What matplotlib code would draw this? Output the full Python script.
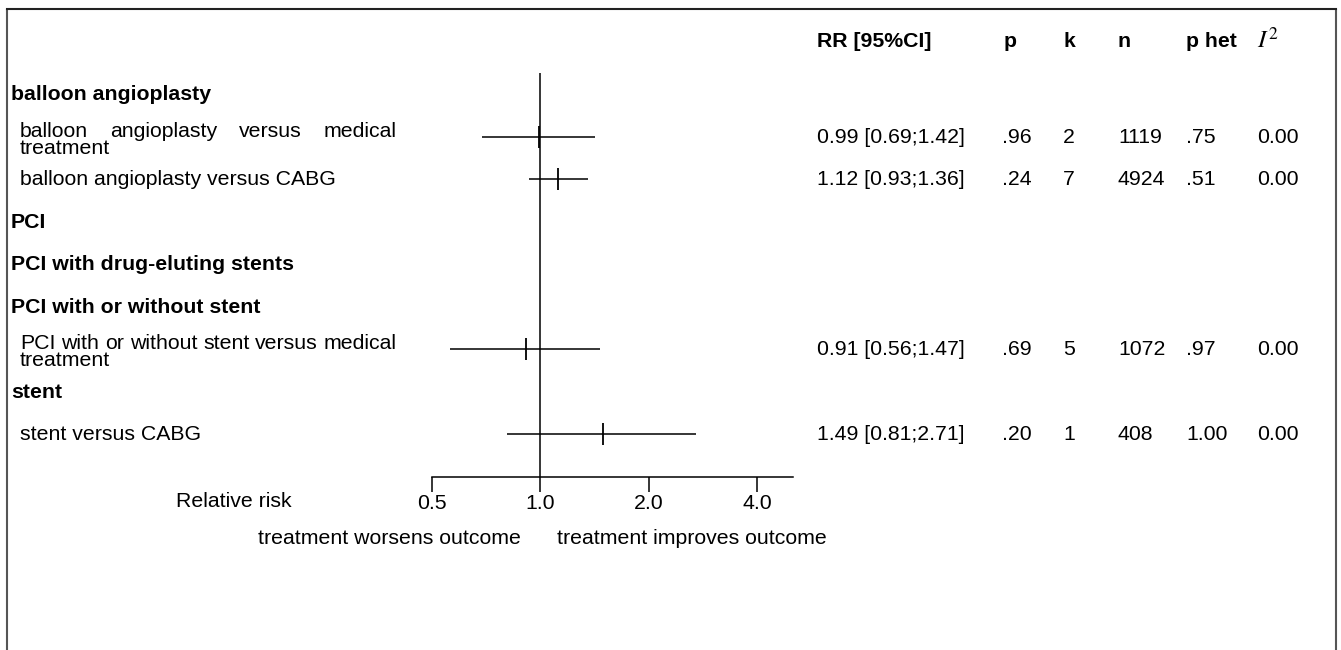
import numpy as np
import matplotlib
matplotlib.use("Agg")
import matplotlib.pyplot as plt
from matplotlib.transforms import blended_transform_factory, offset_copy

plt.rcParams['font.family'] = ['Liberation Sans', 'DejaVu Sans']
plt.rcParams['mathtext.fontset'] = 'stix'

# rows of the forest plot, top to bottom
labels = ["balloon angioplasty",
          "balloon angioplasty versus medical\ntreatment",
          "balloon angioplasty versus CABG",
          "PCI",
          "PCI with drug-eluting stents",
          "PCI with or without stent",
          "PCI with or without stent versus medical\ntreatment",
          "stent",
          "stent versus CABG"]
is_group = [True, False, False, True, True, True, False, True, False]
rr = [np.nan, 0.99, 1.12, np.nan, np.nan, np.nan, 0.91, np.nan, 1.49]
rr_lo = [np.nan, 0.69, 0.93, np.nan, np.nan, np.nan, 0.56, np.nan, 0.81]
rr_hi = [np.nan, 1.42, 1.36, np.nan, np.nan, np.nan, 1.47, np.nan, 2.71]
p_val = ["", ".96", ".24", "", "", "", ".69", "", ".20"]
k_val = ["", "2", "7", "", "", "", "5", "", "1"]
n_val = ["", "1119", "4924", "", "", "", "1072", "", "408"]
p_het = ["", ".75", ".51", "", "", "", ".97", "", "1.00"]
i2_val = ["", "0.00", "0.00", "", "", "", "0.00", "", "0.00"]

headers = ["RR [95%CI]", "p", "k", "n", "p het", "$I^2$"]
ticks = [0.5, 1.0, 2.0, 4.0]
tick_labels = ["0.5", "1.0", "2.0", "4.0"]

FS = 15.3
W, H = 1341, 650

fig = plt.figure(figsize=(W / 100, H / 100), dpi=100)

# background axes in pixel coordinates, used for layout of text
bg = fig.add_axes([0, 0, 1, 1])
bg.set_xlim(0, W)
bg.set_ylim(H, 0)
bg.axis('off')

# frame (no bottom edge)
bg.plot([7, 7], [H, 9], color='#555555', lw=1.5, solid_capstyle='butt')
bg.plot([1336, 1336], [H, 9], color='#555555', lw=1.5, solid_capstyle='butt')
bg.plot([7, 1336], [9, 9], color='#222222', lw=1.5)

# forest axes
x0, x1, ytop, ybot = 432, 793, 73, 477
ax = fig.add_axes([x0 / W, (H - ybot) / H, (x1 - x0) / W, (ybot - ytop) / H])
ax.patch.set_alpha(0)
ax.set_xscale('log', base=2)
ax.set_xlim(0.5, 5.04)
ax.set_ylim(9.01, -0.494)
for s in ['top', 'left', 'right']:
    ax.spines[s].set_visible(False)
ax.spines['bottom'].set_linewidth(1.1)
ax.set_yticks([])
ax.set_xticks(ticks)
ax.set_xticklabels(tick_labels)
ax.minorticks_off()
ax.tick_params(axis='x', direction='out', length=11, width=1.1, pad=1, labelsize=FS)

rows = np.arange(len(labels))
ax.axvline(1.0, color='black', lw=1.1)
ax.hlines(rows, rr_lo, rr_hi, color='black', lw=1.1)
ax.plot(rr, rows, ls='none', marker='|', ms=16, mew=1.3, color='black')

# text helpers
trans = blended_transform_factory(bg.transData, ax.transData)
renderer = fig.canvas.get_renderer()


def text_at(x, row, s, dy=6, **kw):
    t = offset_copy(trans, fig=fig, x=0, y=-dy, units='dots')
    return bg.text(x, row, s, transform=t, va='baseline', fontsize=FS, **kw)


def justified(x_left, x_right, row, line, dy):
    # spread words so the first line of a wrapped label fills the column
    words = line.split()
    t = offset_copy(trans, fig=fig, x=0, y=-dy, units='dots')
    objs = [bg.text(0, row, w, transform=t, va='baseline', fontsize=FS) for w in words]
    widths = [o.get_window_extent(renderer).width for o in objs]
    space = bg.text(0, 0, "a a", fontsize=FS).get_window_extent(renderer).width - \
        2 * bg.text(0, 0, "a", fontsize=FS).get_window_extent(renderer).width
    for o in bg.texts[-2:]:
        o.remove()
    gap = max((x_right - x_left - sum(widths)) / max(len(words) - 1, 1), space)
    x = x_left
    for o, w in zip(objs, widths):
        o.set_x(x)
        x += w + gap


for i, lab in enumerate(labels):
    if is_group[i]:
        text_at(11, i, lab, dy=6, fontweight='bold')
    elif "\n" in lab:
        first, second = lab.split("\n")
        justified(20, 397, i, first, dy=0)
        text_at(20, i, second, dy=17)
    else:
        text_at(20, i, lab, dy=6)

    if not np.isnan(rr[i]):
        text_at(817, i, "%.2f [%.2f;%.2f]" % (rr[i], rr_lo[i], rr_hi[i]), dy=6)
        text_at(1002, i, p_val[i], dy=6)
        text_at(1063, i, k_val[i], dy=6)
        text_at(1118, i, n_val[i], dy=6)
        text_at(1186, i, p_het[i], dy=6)
        text_at(1257, i, i2_val[i], dy=6)

# header row
hx = [817, 1004, 1064, 1118, 1186, 1257]
for x, h in zip(hx, headers):
    if h.startswith("$"):
        bg.text(x, 48, h, va='baseline', fontsize=18)
    else:
        bg.text(x, 47, h, va='baseline', fontsize=FS, fontweight='bold')

# axis annotations
bg.text(176, 507, "Relative risk", va='baseline', fontsize=FS)
bg.text(521, 544, "treatment worsens outcome", va='baseline', ha='right', fontsize=FS)
bg.text(557, 544, "treatment improves outcome", va='baseline', ha='left', fontsize=FS)

fig.savefig("out.png", dpi=100)
